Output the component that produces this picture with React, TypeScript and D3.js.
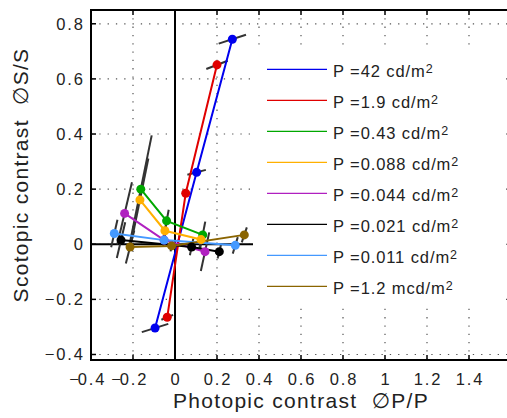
import React from "react";
import * as d3 from "d3";

const W = 507;
const H = 418;

const seriesNames = [
  "P =42 cd/m",
  "P =1.9 cd/m",
  "P =0.43 cd/m",
  "P =0.088 cd/m",
  "P =0.044 cd/m",
  "P =0.021 cd/m",
  "P =0.011 cd/m",
  "P =1.2 mcd/m",
];
const seriesColors = ["#0000ee", "#e00000", "#00a800", "#ffb000", "#b020c0", "#000000", "#4499ff", "#8a6400"];

const xBlue = [-0.095, 0.103, 0.273];
const yBlue = [-0.304, 0.261, 0.744];
const xRed = [-0.037, 0.051, 0.2];
const yRed = [-0.265, 0.185, 0.651];
const xGreen = [-0.163, -0.04, 0.132];
const yGreen = [0.2, 0.085, 0.034];
const xOrange = [-0.167, -0.048, 0.124];
const yOrange = [0.161, 0.049, 0.017];
const xPurple = [-0.24, -0.052, 0.143];
const yPurple = [0.112, 0.015, -0.027];
const xBlack = [-0.257, 0.079, 0.211];
const yBlack = [0.015, -0.01, -0.027];
const xLight = [-0.289, -0.052, 0.287];
const yLight = [0.039, 0.015, -0.004];
const xBrown = [-0.214, -0.016, 0.33];
const yBrown = [-0.01, -0.006, 0.034];

// error bar half-vectors (dx, dy) per point
const eBlue = [[0.063, 0.015], [0.044, 0.009], [0.065, 0.016]];
const eRed = [[0.028, 0.009], [0, 0], [0.051, 0.015]];
const eGreen = [[0.052, 0.195], [0.01, 0.04], [0.012, 0.048]];
const eOrange = [[0.04, 0.15], [0.01, 0.035], [0.008, 0.03]];
const ePurple = [[0.035, 0.113], [0.005, 0.02], [0.02, 0.07]];
const eBlack = [[0.02, 0.065], [0.008, 0.03], [0.008, 0.025]];
const eLight = [[0.015, 0.05], [0.005, 0.02], [0.012, 0.03]];
const eBrown = [[0.02, 0.06], [0.005, 0.02], [0.012, 0.027]];

const allX = [xBlue, xRed, xGreen, xOrange, xPurple, xBlack, xLight, xBrown];
const allY = [yBlue, yRed, yGreen, yOrange, yPurple, yBlack, yLight, yBrown];
const allE = [eBlue, eRed, eGreen, eOrange, ePurple, eBlack, eLight, eBrown];

const xTicks = [-0.4, -0.2, 0, 0.2, 0.4, 0.6, 0.8, 1, 1.2, 1.4];
const xTickLabels = ["−0.4", "−0.2", "0", "0.2", "0.4", "0.6", "0.8", "1", "1.2", "1.4"];
const yTicks = [-0.4, -0.2, 0, 0.2, 0.4, 0.6, 0.8];
const yTickLabels = ["−0.4", "−0.2", "0", "0.2", "0.4", "0.6", "0.8"];
const gridX = [-0.2, 0.2, 0.4, 0.6, 0.8, 1, 1.2, 1.4];
const gridY = [-0.4, -0.2, 0, 0.2, 0.4, 0.6, 0.8];

const FONT = "'Liberation Sans', Arial, Helvetica, 'DejaVu Sans', sans-serif";

export default function App() {
  const L = 91, R = 511, T = 10, B = 360;
  const x = d3.scaleLinear().domain([-0.4, 1.6]).range([L, R]);
  const y = d3.scaleLinear().domain([-0.42, 0.85]).range([B, T]);
  const line = d3
    .line<[number, number]>()
    .x((d) => x(d[0]))
    .y((d) => y(d[1]));

  const legX = 253, legY = 50, legW = 248, legH = 255;
  const tickLS = 1.9;

  return (
    <svg width={W} height={H} style={{ position: "absolute", left: 0, top: 0, background: "#fff" }} fontFamily={FONT}>
      <rect x={0} y={0} width={W} height={H} fill="#fff" />
      {/* grid */}
      {gridX.map((g) => (
        <line key={"gx" + g} x1={x(g)} x2={x(g)} y1={T} y2={B} stroke="#555" strokeWidth={1.2} strokeDasharray="1.3 7" />
      ))}
      {gridY.map((g) => (
        <line key={"gy" + g} x1={L} x2={R} y1={y(g)} y2={y(g)} stroke="#555" strokeWidth={1.2} strokeDasharray="1.3 7" />
      ))}
      {/* zero lines */}
      <line x1={x(0)} x2={x(0)} y1={T} y2={B} stroke="#000" strokeWidth={2} />
      <line x1={L} x2={x(1.5)} y1={y(0)} y2={y(0)} stroke="#000" strokeWidth={2} />
      {/* error bars */}
      {allX.map((xs, si) =>
        xs.map((xv, i) => {
          const e = allE[si][i];
          if (!e[0] && !e[1]) return null;
          const yv = allY[si][i];
          return (
            <line
              key={"e" + si + "-" + i}
              x1={x(xv - e[0])}
              y1={y(yv - e[1])}
              x2={x(xv + e[0])}
              y2={y(yv + e[1])}
              stroke="#333"
              strokeWidth={2}
            />
          );
        })
      )}
      {/* series lines */}
      {allX.map((xs, si) => (
        <path
          key={"l" + si}
          d={line(xs.map((xv, i) => [xv, allY[si][i]] as [number, number])) || ""}
          fill="none"
          stroke={seriesColors[si]}
          strokeWidth={2}
        />
      ))}
      {allX.map((xs, si) =>
        xs.map((xv, i) => (
          <circle key={"c" + si + "-" + i} cx={x(xv)} cy={y(allY[si][i])} r={4.5} fill={seriesColors[si]} />
        ))
      )}
      {/* legend */}
      <rect x={legX} y={legY} width={legW} height={legH} fill="#fff" />
      {seriesNames.map((n, i) => {
        const ly = 69.3 + i * 31;
        return (
          <g key={"lg" + i}>
            <line x1={267} x2={327} y1={ly} y2={ly} stroke={seriesColors[i]} strokeWidth={1.2} />
            <text x={333} y={ly + 8} fontSize={16.5} letterSpacing={0.9} fill="#222">
              {n}
              <tspan fontSize={12.5} dy={-4}>2</tspan>
            </text>
          </g>
        );
      })}
      {/* axes frame */}
      <line x1={L} x2={L} y1={T - 1} y2={B + 1} stroke="#000" strokeWidth={2} />
      <line x1={L - 1} x2={R} y1={T} y2={T} stroke="#000" strokeWidth={2} />
      <line x1={L - 1} x2={R} y1={B} y2={B} stroke="#000" strokeWidth={2} />
      {xTicks.map((t) => (
        <g key={"xt" + t}>
          <line x1={x(t)} x2={x(t)} y1={B} y2={B - 5} stroke="#000" strokeWidth={1.5} />
          <line x1={x(t)} x2={x(t)} y1={T} y2={T + 5} stroke="#000" strokeWidth={1.5} />
        </g>
      ))}
      {yTicks.map((t) => (
        <line key={"yt" + t} x1={L} x2={L + 5} y1={y(t)} y2={y(t)} stroke="#000" strokeWidth={1.5} />
      ))}
      {/* tick labels */}
      {xTicks.map((t, i) => {
        const lab = xTickLabels[i];
        const neg = lab.startsWith("−");
        const num = neg ? lab.slice(1) : lab;
        return (
          <g key={"xl" + t}>
            <text x={x(t) + tickLS / 2} y={385} fontSize={16.5} letterSpacing={tickLS} textAnchor="middle" fill="#222">
              {num}
            </text>
            {neg && (
              <text x={x(t) - 12} y={385} fontSize={16.5} textAnchor="end" fill="#222">
                −
              </text>
            )}
          </g>
        );
      })}
      {yTicks.map((t, i) => (
        <text key={"yl" + t} x={83 + tickLS} y={y(t) + 6} fontSize={16.5} letterSpacing={tickLS} textAnchor="end" fill="#222">
          {yTickLabels[i]}
        </text>
      ))}
      {/* axis labels */}
      <text x={301} y={408} fontSize={21} letterSpacing={1.3} textAnchor="middle" fill="#222" style={{ whiteSpace: "pre" }}>
        {"Photopic contrast  ∅P/P"}
      </text>
      <text
        transform="translate(28,175) rotate(-90)"
        fontSize={21}
        letterSpacing={1.3}
        textAnchor="middle"
        fill="#222"
        style={{ whiteSpace: "pre" }}
      >
        {"Scotopic contrast  ∅S/S"}
      </text>
    </svg>
  );
}
